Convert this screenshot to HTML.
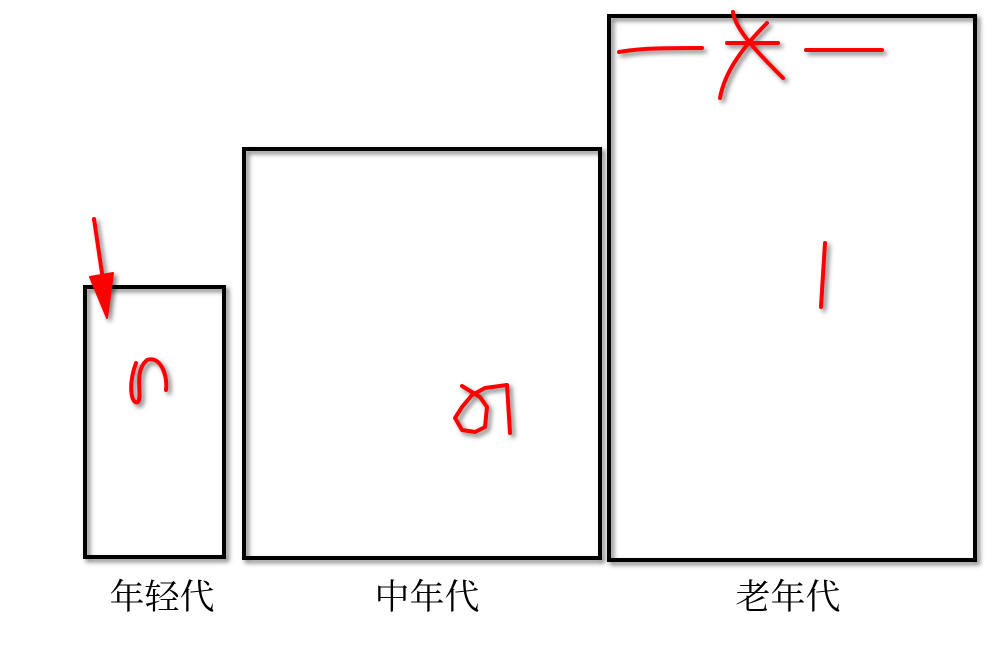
<!DOCTYPE html>
<html><head><meta charset="utf-8"><style>
html,body{margin:0;padding:0;background:#fff;}
svg{display:block;}
text{font-family:"Liberation Serif","Noto Serif CJK SC",serif;font-size:35px;fill:#000;}
</style></head><body>
<svg width="1005" height="649" viewBox="0 0 1005 649">
<defs>
<filter id="sh" x="-10%" y="-10%" width="130%" height="130%">
<feDropShadow dx="3" dy="3" stdDeviation="2.5" flood-color="#000" flood-opacity="0.5"/>
</filter>
</defs>
<g fill="none" stroke="#000" stroke-width="4" filter="url(#sh)">
<rect x="85" y="287" width="139" height="270"/>
<rect x="244" y="149" width="356" height="409"/>
<rect x="609" y="16" width="366" height="544"/>
</g>
<g fill="none" stroke="#f00" stroke-width="4" stroke-linecap="round" stroke-linejoin="round" filter="url(#sh)">
<g>
<path d="M94 219 L106 300"/>
<path d="M90 277 L107 318 L113 273 Z" fill="#f00" stroke-width="2"/>
</g>
<path d="M136 363 C128 385 131 405 138 402 C143 395 133 372 147 360 C160 355 168 375 166 390"/>
<path d="M462 386 L480 397 L487 407 L485 427 L475 432 L462 430 L455 418 L462 407 L472 395 L485 388 L507 385 L510 433"/>
<path d="M825 243 L821 307"/>
<g>
<path d="M619 52 C640 48 670 48 702 48"/>
<path d="M727 43 L778 43"/>
<path d="M806 50 L882 50"/>
<path d="M733 12 C735 30 760 55 783 78"/>
<path d="M767 23 C745 45 725 70 720 98"/>
</g>
</g>
<text x="162" y="609" text-anchor="middle">年轻代</text>
<text x="427" y="609" text-anchor="middle">中年代</text>
<text x="788" y="609" text-anchor="middle">老年代</text>
</svg>
</body></html>
